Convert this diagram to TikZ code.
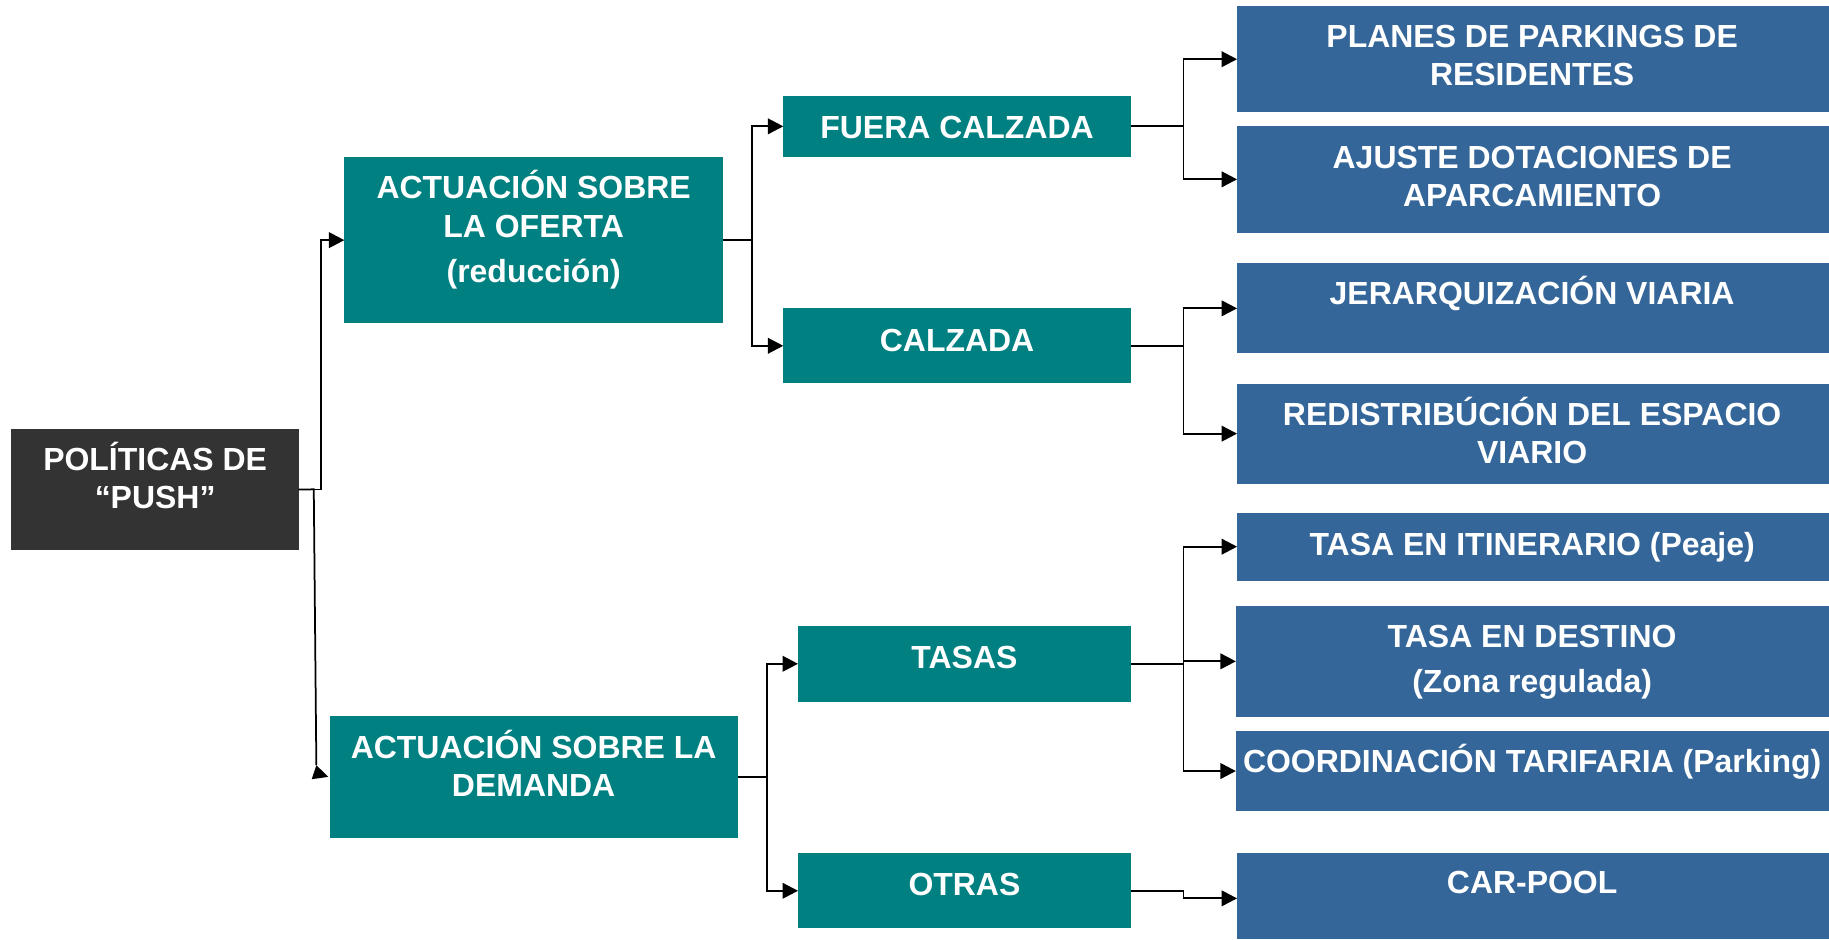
\documentclass[tikz,border=0pt]{standalone}
\usepackage{fontspec}
\setmainfont{Liberation Sans}
\usetikzlibrary{arrows.meta,fit}
\definecolor{tealc}{RGB}{0,128,128}
\definecolor{bluec}{RGB}{52,102,153}
\definecolor{darkc}{RGB}{51,51,51}
\newcommand\fst{\rule{0pt}{13.5pt}}
\begin{document}
\begin{tikzpicture}[x=0.5pt,y=-0.5pt,
  box/.style={rectangle, inner sep=0pt, outer sep=0pt, draw=none},
  tl/.style={box, fill=tealc},
  bl/.style={box, fill=bluec},
  dk/.style={box, fill=darkc},
  txt/.style={text=white, font=\fontsize{13.7}{16.5}\selectfont\bfseries, align=center, inner sep=0pt, anchor=north, yshift=13.5pt},
  conn/.style={line width=0.75pt, draw=black},
  arr/.style={conn, -{Triangle[length=6.6pt,width=6.7pt]}}]
\useasboundingbox (0,0) rectangle (1568,805);

% boxes
\node[dk, fit={(9.6,367.8) (256,471.5)}] (pol) {};
\node[tl, fit={(295.2,134.5) (619.8,277.2)}] (ofe) {};
\node[tl, fit={(282.5,614) (632.5,718)}] (dem) {};
\node[tl, fit={(671.5,82.3) (969.6,134.3)}] (fue) {};
\node[tl, fit={(671.5,264.3) (969.6,328.6)}] (cal) {};
\node[tl, fit={(684.1,536.6) (969.6,601.5)}] (tas) {};
\node[tl, fit={(684.1,731.5) (969.6,795.8)}] (otr) {};
\node[bl, fit={(1060.5,5.5) (1568,96)}] (pla) {};
\node[bl, fit={(1060.5,108) (1568,199.5)}] (aju) {};
\node[bl, fit={(1060.5,225.7) (1568,303)}] (jer) {};
\node[bl, fit={(1060.5,329) (1568,414.5)}] (red) {};
\node[bl, fit={(1060.5,439.5) (1568,497.8)}] (iti) {};
\node[bl, fit={(1059.5,519.5) (1568,614.4)}] (des) {};
\node[bl, fit={(1059.5,627) (1568,695)}] (coo) {};
\node[bl, fit={(1060.5,731.3) (1568,805)}] (car) {};

% texts (placed at first baseline)
\node[txt] (polt) at (133,402.9) {\fst POLÍTICAS DE\\ “PUSH”};
\node[txt] (ofet) at (457.5,170) {\fst ACTUACIÓN SOBRE\\ LA OFERTA\\[2.8pt] (reducción)};
\node[txt] (demt) at (457.5,649.5) {\fst ACTUACIÓN SOBRE LA\\ DEMANDA};
\node[txt] (fuet) at (820.5,118.6) {\fst FUERA CALZADA};
\node[txt] (calt) at (820.5,300.6) {\fst CALZADA};
\node[txt] (tast) at (826.8,572.4) {\fst TASAS};
\node[txt] (otrt) at (826.8,767.2) {\fst OTRAS};
\node[txt] (plat) at (1313.5,40) {\fst PLANES DE PARKINGS DE\\ RESIDENTES};
\node[txt] (ajut) at (1313.5,144.3) {\fst AJUSTE DOTACIONES DE\\[-0.5pt] APARCAMIENTO};
\node[txt] (jert) at (1313.5,260.6) {\fst JERARQUIZACIÓN VIARIA};
\node[txt] (redt) at (1313.5,364.3) {\fst REDISTRIBÚCIÓN DEL ESPACIO\\ VIARIO};
\node[txt] (itit) at (1313.5,475.8) {\fst TASA EN ITINERARIO (Peaje)};
\node[txt] (dest) at (1313.5,554.4) {\fst TASA EN DESTINO\\[2.8pt] (Zona regulada)};
\node[txt] (coot) at (1313.5,661.5) {\fst COORDINACIÓN TARIFARIA (Parking)};
\node[txt] (cart) at (1313.5,765.8) {\fst CAR-POOL};

% connectors
\draw[arr] (pol.east) -- ++(19,0) |- (ofe.west);
\coordinate (dtip) at (271.2,656);
\draw[conn] (pol.east) -- (269,419.5) -- (dtip);
\fill[black] (dtip) -- ++(-4,12) -- ([xshift=-0.5pt]dem.west) -- cycle;

\draw[arr] (ofe.east) -- ++(25,0) |- (fue.west);
\draw[arr] (ofe.east) -- ++(25,0) |- (cal.west);

\draw[arr] (fue.east) -- ++(45,0) |- (pla.west);
\draw[arr] (fue.east) -- ++(45,0) |- (aju.west);

\draw[arr] (cal.east) -- ++(45,0) |- (jer.west);
\draw[arr] (cal.east) -- ++(45,0) |- (red.west);

\draw[arr] (dem.east) -- ++(25,0) |- (tas.west);
\draw[arr] (dem.east) -- ++(25,0) |- (otr.west);

\draw[arr] (tas.east) -- ++(45,0) |- (iti.west);
\draw[arr] (tas.east) -- ++(45,0) |- (des.west);
\draw[arr] (tas.east) -- ++(45,0) |- (coo.west);

\draw[arr] (otr.east) -- ++(45,0) |- ([yshift=-1pt]car.west);
\end{tikzpicture}
\end{document}
